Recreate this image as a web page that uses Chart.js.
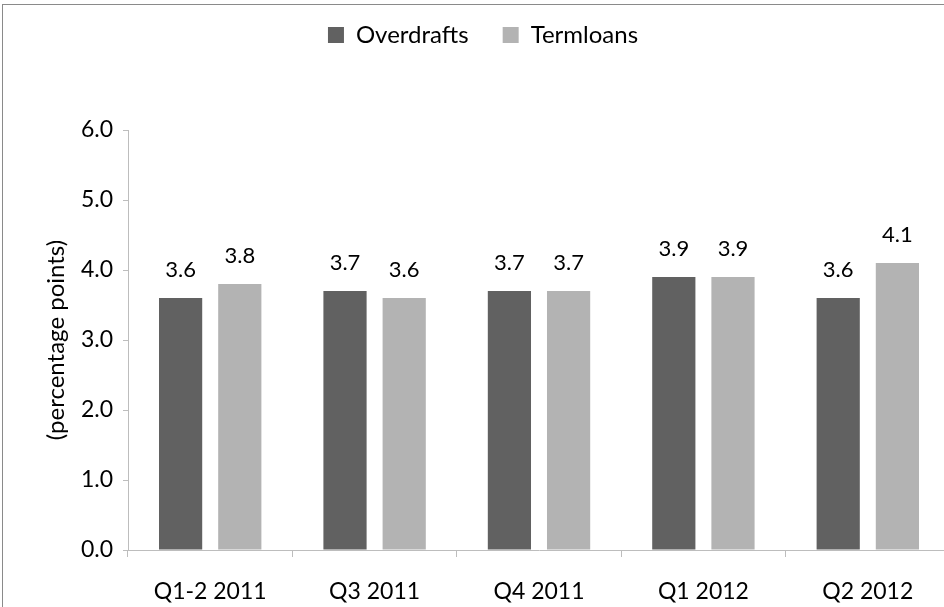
<!DOCTYPE html>
<html>
<head>
<meta charset="utf-8">
<script src="https://cdn.jsdelivr.net/npm/chart.js@4.4.1/dist/chart.umd.min.js"></script>
<style>
  html, body { margin: 0; padding: 0; background: #fff; overflow: hidden; }
  #frame { position: absolute; left: 2px; top: 4px; width: 1000px; height: 700px;
           border-left: 1px solid #8a8a8a; border-top: 1px solid #8a8a8a; }
  #wrap { position: absolute; left: 0; top: 0; width: 950px; height: 607px; }
</style>
</head>
<body>
<div id="frame"></div>
<div id="wrap"><canvas id="chart"></canvas></div>
<script>
"use strict";

const categories = ["Q1-2 2011", "Q3 2011", "Q4 2011", "Q1 2012", "Q2 2012"];
const overdrafts = [3.6, 3.7, 3.7, 3.9, 3.6];
const termloans = [3.8, 3.6, 3.7, 3.9, 4.1];
const yTicks = [0, 1, 2, 3, 4, 5, 6];

const FONT = "Lato, 'Open Sans', sans-serif";
const AXIS = "#bdbdbd";

// value labels above each bar
const barLabels = {
  id: "barLabels",
  afterDatasetsDraw(chart) {
    const ctx = chart.ctx;
    ctx.save();
    ctx.font = "22px " + FONT;
    ctx.fillStyle = "#000";
    ctx.textAlign = "center";
    ctx.textBaseline = "alphabetic";
    chart.data.datasets.forEach((ds, i) => {
      chart.getDatasetMeta(i).data.forEach((bar, j) => {
        ctx.fillText(ds.data[j].toFixed(1), bar.x, bar.y - 21);
      });
    });
    ctx.restore();
  },
};

// lift the legend up into the top band
const legendShift = {
  id: "legendShift",
  afterLayout(chart) {
    const lg = chart.legend;
    if (!lg) return;
    lg.top -= 73;
    lg.bottom -= 73;
    lg.left += 8;
    lg.right += 8;
  },
};

new Chart(document.getElementById("chart"), {
  type: "bar",
  data: {
    labels: categories,
    datasets: [
      {
        label: "Overdrafts",
        data: overdrafts,
        backgroundColor: "#616161",
        borderWidth: 0,
        categoryPercentage: 0.72,
        barPercentage: 0.73,
      },
      {
        label: "Termloans",
        data: termloans,
        backgroundColor: "#b3b3b3",
        borderWidth: 0,
        categoryPercentage: 0.72,
        barPercentage: 0.73,
      },
    ],
  },
  options: {
    responsive: true,
    maintainAspectRatio: false,
    animation: false,
    layout: { padding: { top: 62, left: 0, right: 0, bottom: 0 } },
    scales: {
      x: {
        grid: { drawOnChartArea: false, color: AXIS, tickLength: 7, offset: true },
        border: { color: AXIS, width: 1 },
        ticks: { color: "#000", font: { family: FONT, size: 23 }, padding: 21, maxRotation: 0 },
        afterFit: (s) => { s.height = 57; },
      },
      y: {
        min: 0,
        max: 6,
        afterBuildTicks: (s) => { s.ticks = yTicks.map((v) => ({ value: v })); },
        grid: { drawOnChartArea: false, color: AXIS, tickLength: 5 },
        border: { color: AXIS, width: 1 },
        ticks: {
          color: "#000",
          font: { family: FONT, size: 23 },
          padding: 10,
          callback: (v) => Number(v).toFixed(1),
        },
        title: {
          display: true,
          text: "(percentage points)",
          color: "#000",
          font: { family: FONT, size: 24 },
          padding: { top: 42, bottom: 0 },
        },
        afterFit: (s) => { s.width = 128; },
      },
    },
    plugins: {
      legend: {
        position: "top",
        labels: {
          color: "#000",
          font: { family: FONT, size: 24 },
          boxWidth: 16,
          boxHeight: 16,
          padding: 34,
        },
      },
      tooltip: { enabled: false },
    },
  },
  plugins: [barLabels, legendShift],
});
</script>
</body>
</html>
